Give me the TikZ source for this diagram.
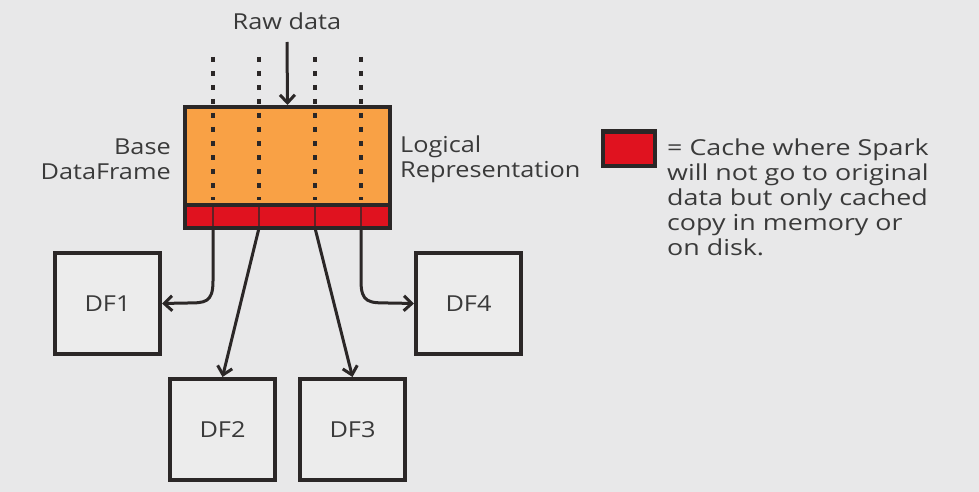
\documentclass[tikz,border=0pt]{standalone}
\usepackage{fontspec}
\setmainfont[FakeStretch=1.15]{Open Sans}
\newfontfamily\legendfont[FakeStretch=1.22]{Open Sans}
\usetikzlibrary{arrows.meta}
\definecolor{bg}{HTML}{E8E8E9}
\definecolor{boxfill}{HTML}{ECECEC}
\definecolor{ink}{HTML}{2B2727}
\definecolor{txt}{HTML}{3A3A3A}
\definecolor{orng}{HTML}{F9A145}
\definecolor{cachered}{HTML}{E0121F}
\tikzset{
  dfbox/.style={draw=ink, fill=boxfill, line width=4pt, minimum width=105pt, minimum height=101pt, inner sep=0pt, font=\fontsize{22}{25}\selectfont, text=txt},
  basebox/.style={draw=ink, fill=orng, line width=4pt, minimum width=205pt, minimum height=98pt, inner sep=0pt},
  cachebox/.style={draw=ink, fill=cachered, line width=4pt, minimum width=205pt, minimum height=23pt, inner sep=0pt},
  lbl/.style={font=\fontsize{22}{25}\selectfont, text=txt, inner sep=0pt},
  conn/.style={draw=ink, line width=3pt, -{Straight Barb[length=8pt,width=15pt,line width=3pt]}},
  dotline/.style={draw=ink, line width=4pt, dash pattern=on 5pt off 9pt},
  bandline/.style={draw=ink!70!cachered, line width=2pt}
}
\begin{document}
\begin{tikzpicture}[x=1pt,y=-1pt]
\fill[bg] (0,0) rectangle (979,492);
\useasboundingbox (0,0) rectangle (979,492);

% base dataframe and cache band
\node[basebox] (base) at (287.5,156) {};
\node[cachebox] (cache) at (287.5,216.5) {};

% dotted columns
\foreach \xx in {213,259,315,361}{
  \draw[dotline] (\xx,57) -- (\xx,200);
  \draw[bandline] (\xx,207) -- (\xx,226);
}

% raw data
\node[lbl] (raw) at (287,21) {Raw data};
\coordinate (rawtop) at (287,42);
\draw[conn] (rawtop) -- (base.north);

% labels
\node[lbl, anchor=east, align=right] (baselbl) at (171,159) {Base\\DataFrame};
\node[lbl, anchor=west, align=left] (loglbl) at (400,159) {Logical\\Representation};

% DF boxes
\node[dfbox] (df1) at (107.5,303.5) {DF1};
\node[dfbox] (df2) at (222.5,429.5) {DF2};
\node[dfbox] (df3) at (352.5,429.5) {DF3};
\node[dfbox] (df4) at (468.5,303.5) {DF4};

% connectors
\coordinate (c1) at (213,228);
\coordinate (c2) at (259,228);
\coordinate (c3) at (315,228);
\coordinate (c4) at (361,228);
\draw[conn] (c1) -- (213,281) .. controls (213,303) and (205,303) .. (186,303) -- (df1.east);
\draw[conn] (c2) -- (df2.north);
\draw[conn] (c3) -- (df3.north);
\draw[conn] (c4) -- (361,281) .. controls (361,303) and (369,303) .. (390,303) -- (df4.west);

% legend
\node[draw=ink, fill=cachered, line width=4pt, minimum width=52pt, minimum height=34pt, inner sep=0pt] (legend) at (629,148.5) {};
\node[lbl, font=\legendfont\fontsize{22}{25}\selectfont, anchor=north west, align=left] (legendtxt) at (667,139) {= Cache where Spark\\will not go to original\\data but only cached\\copy in memory or\\on disk.};
\end{tikzpicture}
\end{document}
